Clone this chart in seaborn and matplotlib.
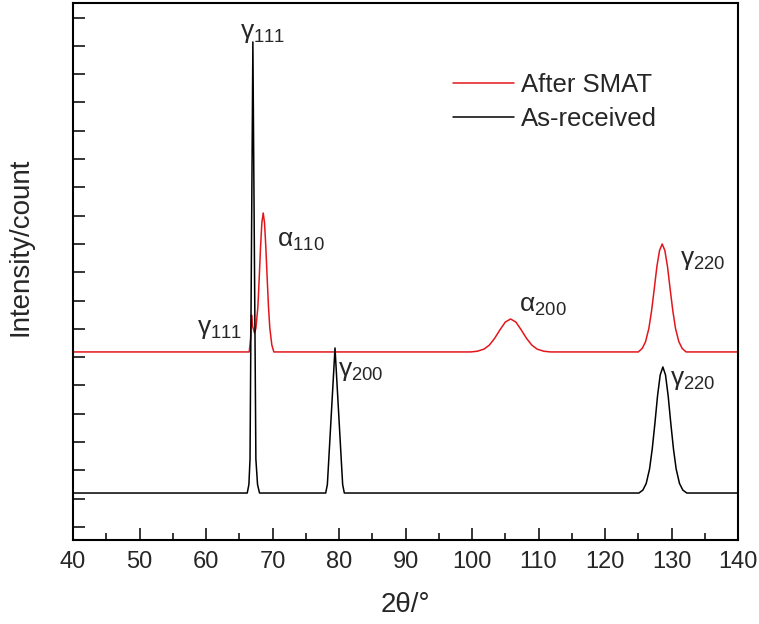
import matplotlib
matplotlib.use("Agg")
import matplotlib.pyplot as plt
import seaborn as sns
import pandas as pd
from matplotlib.ticker import MultipleLocator, NullFormatter

# ---------------- data ----------------
series_names = ["After SMAT", "As-received"]
series_colors = ["#e3161c", "#000000"]

# As-received (black) pattern: 2theta (deg) and intensity (counts)
asrec_x = [40.0, 66.2, 66.45, 66.62, 67.05, 67.5, 67.75, 68.05,
           78.0, 78.25, 78.4, 79.4, 80.4, 80.55, 80.8,
           125.1, 125.7, 126.2, 126.7, 127.1, 127.5, 127.9, 128.3, 128.7,
           129.1, 129.5, 129.9, 130.3, 130.7, 131.2, 131.7, 132.3, 140.0]
asrec_y = [240, 240, 300, 480, 3428, 480, 300, 240,
           240, 300, 424, 1265, 424, 300, 240,
           240, 261, 308, 410, 550, 730, 926, 1074, 1131,
           1074, 926, 730, 550, 410, 308, 261, 240, 240]

# After SMAT (red) pattern
smat_x = [40.0, 66.5, 66.7, 66.85, 67.0, 67.3, 67.5, 67.8, 68.0, 68.2, 68.4, 68.6,
          68.8, 69.0, 69.2, 69.4, 69.6, 69.9, 70.2,
          99.8, 100.8, 101.8, 102.6, 103.4, 104.2, 105.0, 105.8, 106.6, 107.4,
          108.2, 109.0, 109.8, 110.8, 111.8,
          125.0, 125.6, 126.1, 126.6, 127.0, 127.4, 127.8, 128.2, 128.6,
          129.0, 129.4, 129.8, 130.2, 130.6, 131.1, 131.6, 132.2, 140.0]
smat_y = [1237, 1237, 1330, 1498, 1420, 1371, 1404, 1553, 1757, 1975, 2150, 2219,
          2150, 1975, 1757, 1553, 1404, 1286, 1237,
          1237, 1242, 1257, 1285, 1333, 1393, 1448, 1470, 1448, 1393,
          1333, 1285, 1257, 1242, 1237,
          1237, 1262, 1310, 1404, 1527, 1680, 1840, 1954, 2000,
          1954, 1840, 1680, 1527, 1404, 1310, 1262, 1237, 1237]

# peak labels: text, x, y (data coords)
peak_labels = ["γ_{111}", "α_{110}", "γ_{111}", "γ_{200}", "α_{200}", "γ_{220}", "γ_{220}"]
peak_label_x = [65.1, 70.7, 58.6, 79.85, 107.1, 131.3, 129.8]
peak_label_y = [3491, 2021, 1396, 1102, 1562, 1887, 1039]

x_ticks = list(range(40, 141, 10))
x_label = "2θ/°"
y_label = "Intensity/count"

# ---------------- figure ----------------
sns.set_style("ticks")
plt.rcParams["font.family"] = ["Liberation Sans", "DejaVu Sans"]
plt.rcParams["mathtext.default"] = "regular"

df = pd.concat([
    pd.DataFrame({"x": smat_x, "y": smat_y, "s": series_names[0]}),
    pd.DataFrame({"x": asrec_x, "y": asrec_y, "s": series_names[1]}),
])

fig = plt.figure(figsize=(7.59, 6.24), dpi=100)
ax = fig.add_axes([73 / 759, 1 - 540 / 624, (738 - 73) / 759, (540 - 3) / 624])

sns.lineplot(data=df, x="x", y="y", hue="s", hue_order=series_names,
             palette=series_colors, sort=False, estimator=None, units="s",
             linewidth=1.1, ax=ax, legend=False)

ax.set_xlim(40, 140)
ax.set_ylim(-92, 3703)
ax.set_xticks(x_ticks)
ax.xaxis.set_minor_locator(MultipleLocator(5))
ax.yaxis.set_major_locator(MultipleLocator(200))
ax.yaxis.set_major_formatter(NullFormatter())

for side in ["left", "right", "top", "bottom"]:
    ax.spines[side].set_visible(True)
    ax.spines[side].set_linewidth(1.5)
    ax.spines[side].set_color("black")

ax.tick_params(axis="both", which="major", direction="in", length=8.5, width=1.1,
               color="black")
ax.tick_params(axis="x", which="minor", direction="in", length=5, width=1.1, color="black")
ax.tick_params(axis="x", which="major", labelsize=17, pad=8)
ax.tick_params(top=False, right=False)
ax.tick_params(axis="x", which="minor", top=False)

ax.set_xlabel(x_label, fontsize=20)
ax.set_ylabel(y_label, fontsize=20)
ax.xaxis.set_label_coords(0.5, -0.096)
ax.yaxis.set_label_coords(-0.059, 0.546)

for t, xx, yy in zip(peak_labels, peak_label_x, peak_label_y):
    ax.text(xx, yy, "$" + t + "$", fontsize=19, ha="left", va="center")

handles = [plt.Line2D([], [], color=c, linewidth=1.1) for c in series_colors]
ax.legend(handles, series_names, loc="upper left", bbox_to_anchor=(0.571, 0.87),
          frameon=False, fontsize=18.5, handlelength=2.4, handletextpad=0.25,
          labelspacing=0.4, borderpad=0, borderaxespad=0)

fig.savefig("out.png", dpi=100)
